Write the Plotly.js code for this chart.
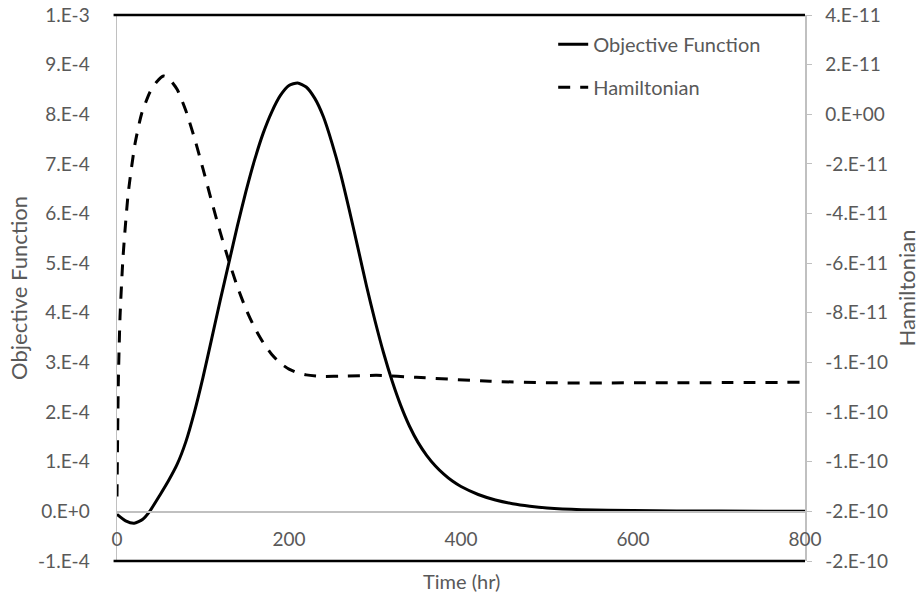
<!DOCTYPE html>
<html>
<head>
<meta charset="utf-8">
<script src="https://cdn.plot.ly/plotly-3.0.1.min.js"></script>
<style>
  html, body { margin: 0; padding: 0; background: #ffffff; }
  #chart { width: 921px; height: 596px; }
</style>
</head>
<body>
<div id="chart"></div>
<script>
// Objective function vs. time (left axis)
const objTime = [0, 10, 20, 30, 38, 50, 60, 70, 80, 90, 100, 110, 120, 130, 140, 150, 160, 170, 180, 190, 200, 210, 220, 230, 240, 250, 260, 270, 280, 290, 300, 310, 320, 330, 340, 350, 360, 370, 380, 390, 400, 420, 440, 460, 480, 500, 540, 600, 700, 800];
const objValue = [-0.06e-4, -0.19e-4, -0.24e-4, -0.16e-4, 0.0, 0.33e-4, 0.62e-4, 0.95e-4, 1.4e-4, 2.0e-4, 2.7e-4, 3.47e-4, 4.25e-4, 5.0e-4, 5.75e-4, 6.45e-4, 7.08e-4, 7.62e-4, 8.05e-4, 8.38e-4, 8.58e-4, 8.63e-4, 8.55e-4, 8.32e-4, 7.95e-4, 7.42e-4, 6.8e-4, 6.08e-4, 5.32e-4, 4.55e-4, 3.84e-4, 3.19e-4, 2.62e-4, 2.13e-4, 1.72e-4, 1.39e-4, 1.13e-4, 0.92e-4, 0.75e-4, 0.61e-4, 0.5e-4, 0.34e-4, 0.23e-4, 0.155e-4, 0.105e-4, 0.07e-4, 0.035e-4, 0.015e-4, 0.005e-4, 0.0];

// Hamiltonian vs. time (right axis)
const hamTime = [0, 1.5, 3.5, 7, 13, 21, 28.7, 38.4, 46, 54, 60, 70, 80, 90, 100, 110, 120, 130, 140, 150, 160, 170, 180, 190, 200, 210, 220, 236, 267, 302, 348, 434, 504, 616, 800];
const hamValue = [-15.4e-11, -10.87e-11, -8.18e-11, -5.76e-11, -3.2e-11, -1.18e-11, 0.03e-11, 0.9e-11, 1.3e-11, 1.54e-11, 1.45e-11, 1.0e-11, 0.15e-11, -0.95e-11, -2.2e-11, -3.5e-11, -4.75e-11, -5.9e-11, -6.95e-11, -7.85e-11, -8.6e-11, -9.2e-11, -9.68e-11, -10.03e-11, -10.27e-11, -10.42e-11, -10.5e-11, -10.56e-11, -10.55e-11, -10.52e-11, -10.6e-11, -10.76e-11, -10.82e-11, -10.82e-11, -10.8e-11];

// Axis ticks and their labels
const xTicks = [0, 200, 400, 600, 800];
const leftTicks = [-1e-4, 0, 1e-4, 2e-4, 3e-4, 4e-4, 5e-4, 6e-4, 7e-4, 8e-4, 9e-4, 1e-3];
const leftLabels = ['-1.E-4', '0.E+0', '1.E-4', '2.E-4', '3.E-4', '4.E-4', '5.E-4', '6.E-4', '7.E-4', '8.E-4', '9.E-4', '1.E-3'];
const rightTicks = [-18e-11, -16e-11, -14e-11, -12e-11, -10e-11, -8e-11, -6e-11, -4e-11, -2e-11, 0, 2e-11, 4e-11];
const rightLabels = ['-2.E-10', '-2.E-10', '-1.E-10', '-1.E-10', '-1.E-10', '-8.E-11', '-6.E-11', '-4.E-11', '-2.E-11', '0.E+00', '2.E-11', '4.E-11'];

const FONT = 'Lato, "Open Sans", sans-serif';
const GREY_TEXT = '#595959';
const GREY_LINE = '#c0c0c0';

const traces = [
  {
    x: objTime, y: objValue, name: 'Objective Function',
    type: 'scatter', mode: 'lines', yaxis: 'y', legendgroup: 'a',
    line: { color: '#000000', width: 3, shape: 'spline', smoothing: 0.6 }
  },
  {
    x: hamTime, y: hamValue, name: 'Hamiltonian',
    type: 'scatter', mode: 'lines', yaxis: 'y2', legendgroup: 'b',
    line: { color: '#000000', width: 3, dash: '12px,10px', shape: 'spline', smoothing: 0.6 }
  }
];

const layout = {
  width: 921, height: 596,
  margin: { l: 117, r: 116, t: 15, b: 35 },
  paper_bgcolor: '#ffffff', plot_bgcolor: '#ffffff',
  font: { family: FONT, color: GREY_TEXT },
  showlegend: true,
  legend: {
    x: 0.634, y: 0.982, xanchor: 'left', yanchor: 'top',
    bgcolor: 'rgba(0,0,0,0)', traceorder: 'grouped', tracegroupgap: 14,
    font: { family: FONT, size: 20, color: GREY_TEXT }
  },
  xaxis: {
    range: [0, 800], tickvals: xTicks, ticktext: xTicks.map(String),
    anchor: 'free', position: (0 - (-1e-4)) / (1e-3 - (-1e-4)),
    showline: true, linecolor: GREY_LINE, linewidth: 1.5,
    showgrid: false, zeroline: false, ticks: '',
    ticklabelstandoff: 10,
    tickfont: { family: FONT, size: 19, color: GREY_TEXT }
  },
  yaxis: {
    range: [-1e-4, 1e-3], tickvals: leftTicks, ticktext: leftLabels,
    showline: true, linecolor: GREY_LINE, linewidth: 1.5,
    showgrid: false, zeroline: false, ticks: '',
    ticklabelstandoff: 22,
    tickfont: { family: FONT, size: 19, color: GREY_TEXT },
    title: { text: 'Objective Function', standoff: 4, font: { family: FONT, size: 22, color: GREY_TEXT } }
  },
  yaxis2: {
    range: [-18e-11, 4e-11], tickvals: rightTicks, ticktext: rightLabels,
    overlaying: 'y', side: 'right',
    showline: true, linecolor: GREY_LINE, linewidth: 1.5,
    showgrid: false, zeroline: false,
    ticks: 'outside', ticklen: 5, tickcolor: GREY_LINE, tickwidth: 1,
    ticklabelstandoff: 10,
    tickfont: { family: FONT, size: 19, color: GREY_TEXT },
    title: { text: 'Hamiltonian', standoff: 12, font: { family: FONT, size: 22, color: GREY_TEXT } }
  },
  shapes: [
    { type: 'line', xref: 'paper', yref: 'paper', x0: -0.005, x1: 1, y0: 1, y1: 1, line: { color: '#000000', width: 2.5 } },
    { type: 'line', xref: 'paper', yref: 'paper', x0: -0.005, x1: 1, y0: 0, y1: 0, line: { color: '#000000', width: 2.5 } }
  ],
  annotations: [
    { text: 'Time (hr)', xref: 'paper', yref: 'paper', x: 0.5, y: 0, yshift: -20,
      xanchor: 'center', yanchor: 'middle', showarrow: false,
      font: { family: FONT, size: 20, color: GREY_TEXT } }
  ]
};

Plotly.newPlot('chart', traces, layout, { displayModeBar: false, staticPlot: true });
</script>
</body>
</html>
